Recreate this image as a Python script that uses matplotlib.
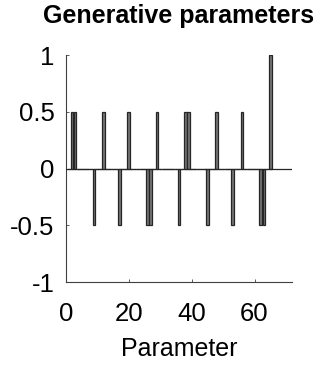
import matplotlib
matplotlib.use("Agg")
import matplotlib.pyplot as plt
import numpy as np

# Parameter indices with non-zero generative values
param_idx = [2, 3, 9, 12, 17, 20, 26, 27, 29, 36, 38, 39, 45, 48, 53, 56, 62, 63, 65]
param_val = [0.5, 0.5, -0.5, 0.5, -0.5, 0.5, -0.5, -0.5, 0.5, -0.5, 0.5, 0.5,
             -0.5, 0.5, -0.5, 0.5, -0.5, -0.5, 1.0]
n_params = 65
xticks = [0, 20, 40, 60]
yticks = [-1, -0.5, 0, 0.5, 1]
ytick_labels = ["-1", "-0.5", "0", "0.5", "1"]

values = np.zeros(n_params)
for i, v in zip(param_idx, param_val):
    values[i - 1] = v
x = np.arange(1, n_params + 1)

plt.rcParams['font.family'] = ['Liberation Sans', 'DejaVu Sans']

fig = plt.figure(figsize=(3.21, 3.66), dpi=100)
ax = fig.add_axes([0.2047, 0.2287, 0.9106 - 0.2047, 0.8497 - 0.2287])

ax.bar(x, values, width=0.85, color='#767676', edgecolor='#262626', linewidth=0.9, zorder=2)
ax.axhline(0, color='#262626', linewidth=0.9, zorder=3)

ax.set_xlim(0, 72)
ax.set_ylim(-1, 1)
ax.set_xticks(xticks)
ax.set_yticks(yticks)
ax.set_yticklabels(ytick_labels)
ax.tick_params(direction='in', length=2.5, width=0.6, colors='#404040', labelsize=18.5,
               labelcolor='black')
ax.tick_params(axis='y', pad=8)
ax.tick_params(axis='x', pad=14)
for s in ['top', 'right']:
    ax.spines[s].set_visible(False)
for s in ['left', 'bottom']:
    ax.spines[s].set_color('#404040')
    ax.spines[s].set_linewidth(0.8)

ax.set_xlabel('Parameter', fontsize=18, labelpad=8)
ax.set_title('Generative parameters', fontsize=18, fontweight='bold', pad=23)

fig.savefig('out.png', dpi=100)
